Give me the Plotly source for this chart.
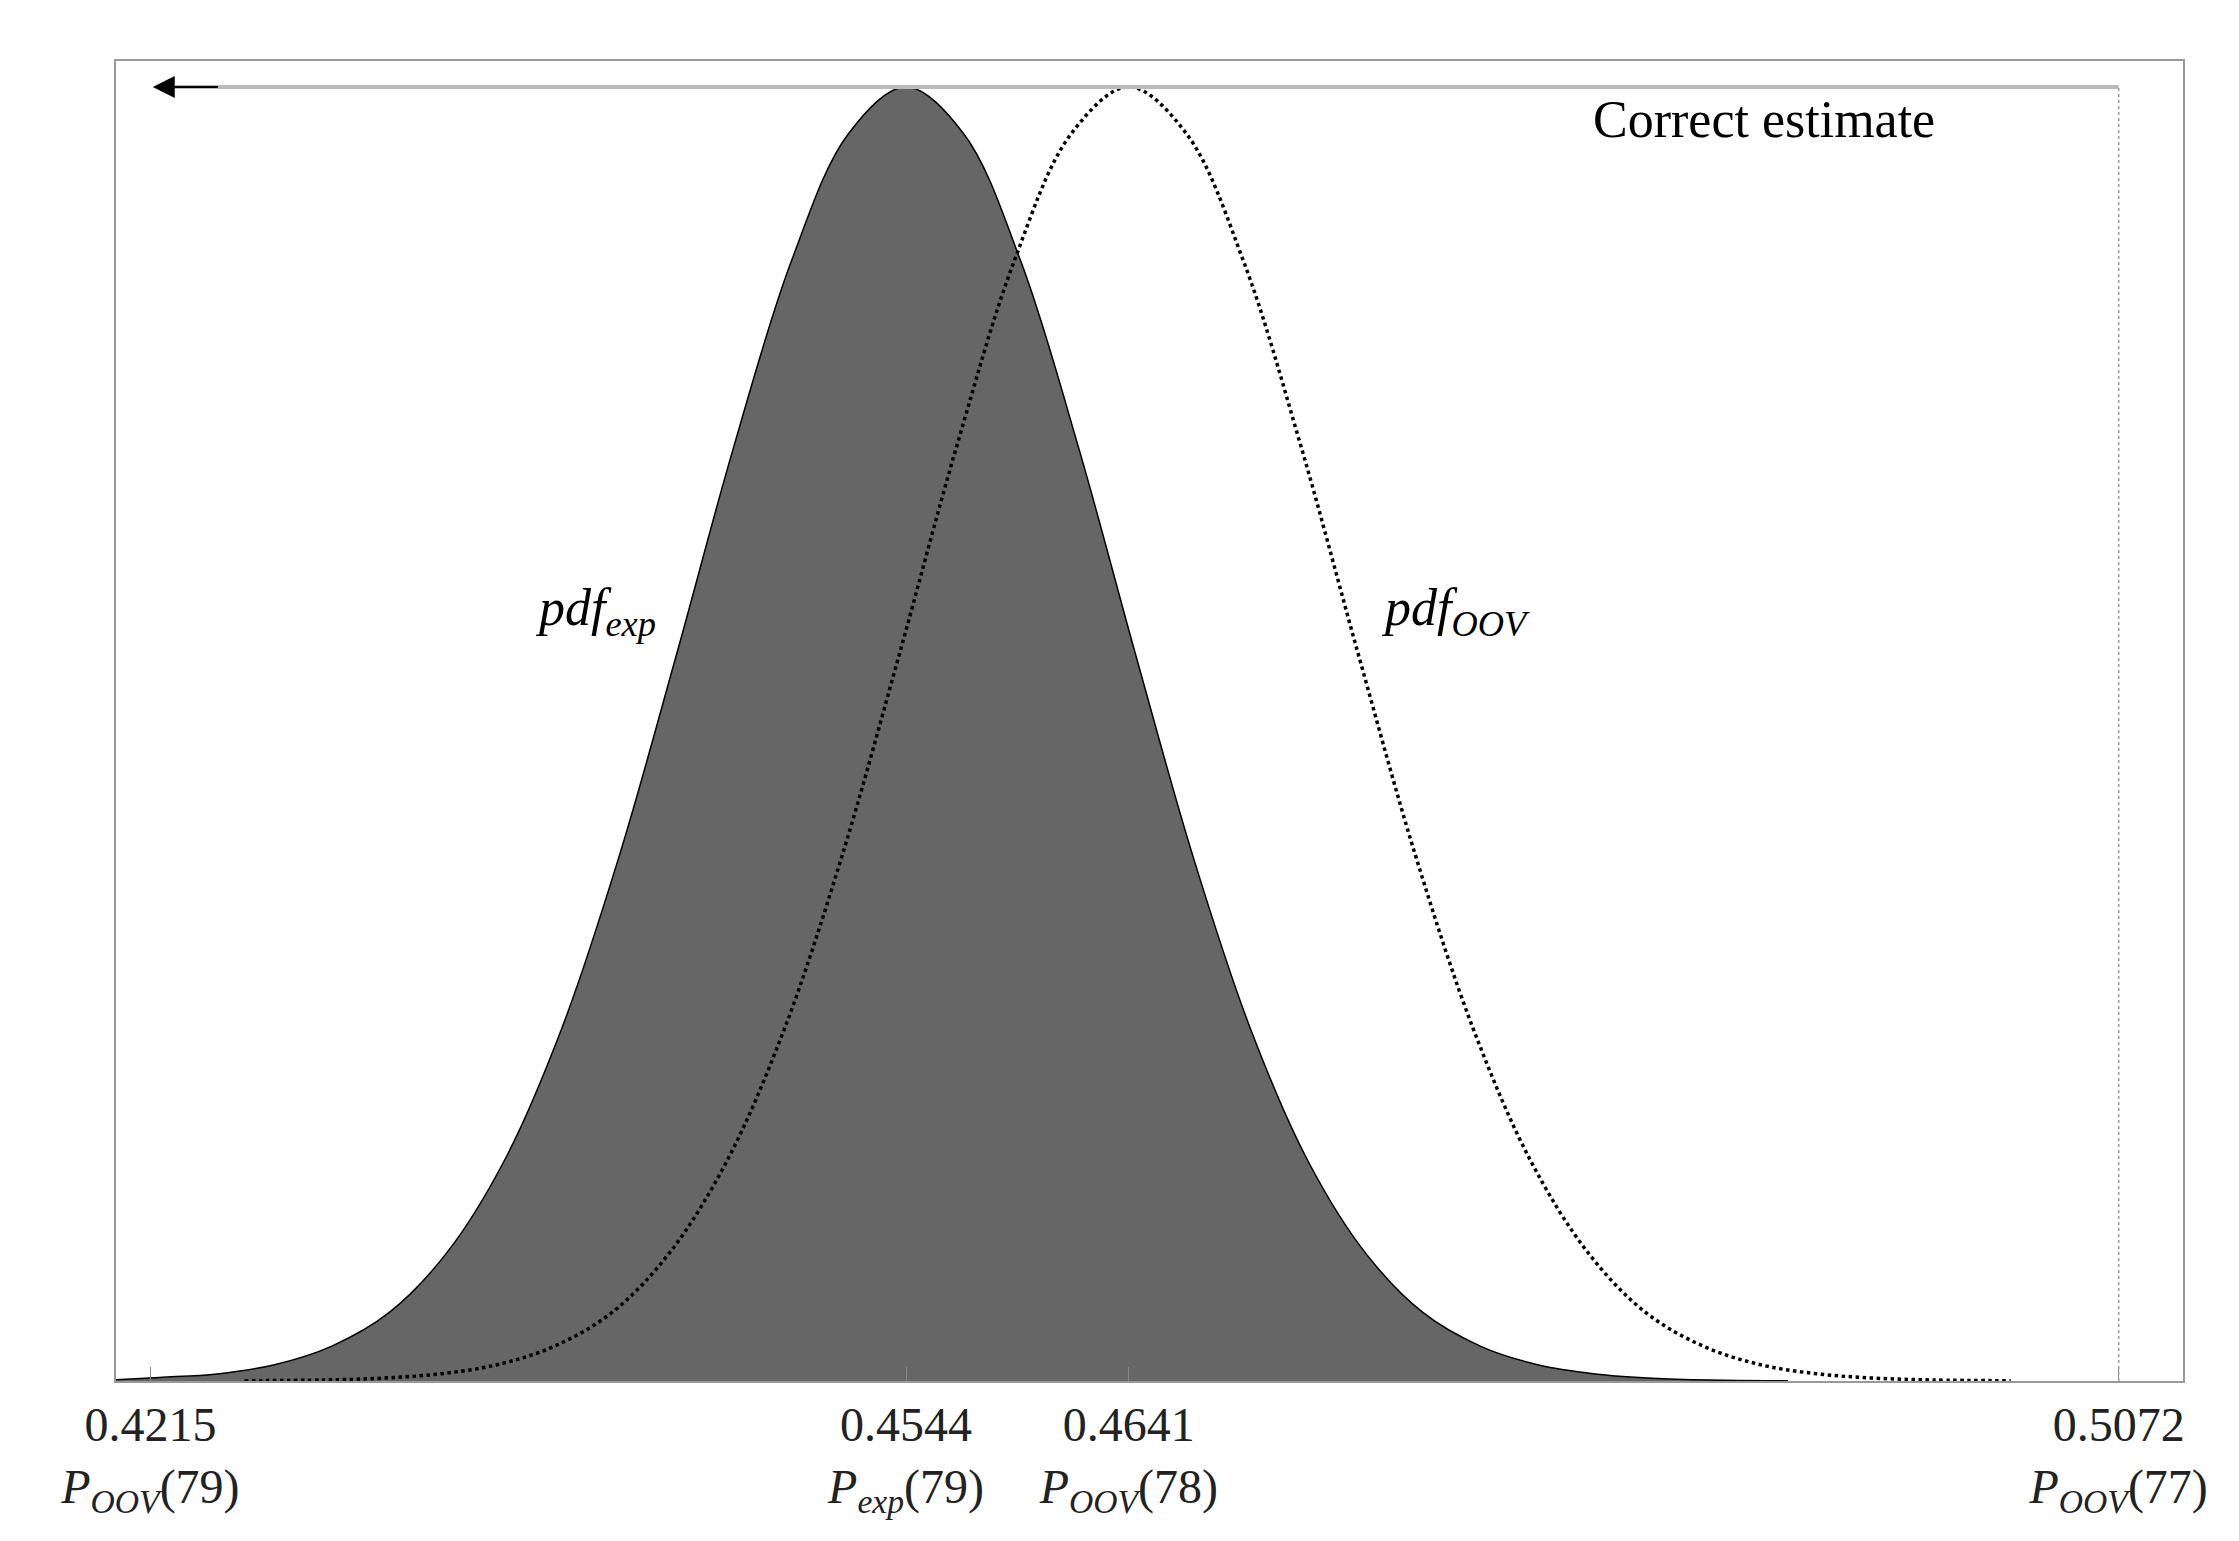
import plotly.graph_objects as go

# values (heights normalised to peak = 1)
exp_x = [0.4200, 0.4219, 0.4244, 0.4269, 0.4294, 0.4319, 0.4344, 0.4369, 0.4394, 0.4419,
         0.4444, 0.4469, 0.4494, 0.4519, 0.4544, 0.4569, 0.4594, 0.4619, 0.4644, 0.4669,
         0.4694, 0.4719, 0.4744, 0.4769, 0.4794, 0.4819, 0.4844, 0.4869, 0.4894, 0.4928]
exp_y = [0.001, 0.0028, 0.0055, 0.0126, 0.027, 0.053, 0.099, 0.170, 0.272, 0.405,
         0.561, 0.722, 0.865, 0.964, 1.0, 0.964, 0.865, 0.722, 0.561, 0.405,
         0.272, 0.170, 0.099, 0.053, 0.027, 0.0126, 0.0055, 0.0022, 0.0008, 0.0002]
oov_x = [0.4256, 0.4291, 0.4316, 0.4341, 0.4366, 0.4391, 0.4416, 0.4441, 0.4466, 0.4491,
         0.4516, 0.4541, 0.4566, 0.4591, 0.4616, 0.4641, 0.4666, 0.4691, 0.4716, 0.4741,
         0.4766, 0.4791, 0.4816, 0.4841, 0.4866, 0.4891, 0.4916, 0.4941, 0.4966, 0.4991,
         0.5025]
oov_y = [0.0002, 0.0008, 0.0022, 0.0055, 0.0126, 0.027, 0.053, 0.099, 0.170, 0.272,
         0.405, 0.561, 0.722, 0.865, 0.964, 1.0, 0.964, 0.865, 0.722, 0.561,
         0.405, 0.272, 0.170, 0.099, 0.053, 0.027, 0.0126, 0.0055, 0.0022, 0.0008,
         0.0002]
tick_vals = [0.4215, 0.4544, 0.4641, 0.5072]
tick_text = ["0.4215<br><i>P</i><sub><i>OOV</i></sub>(79)",
             "0.4544<br><i>P</i><sub><i>exp</i></sub>(79)",
             "0.4641<br><i>P</i><sub><i>OOV</i></sub>(78)",
             "0.5072<br><i>P</i><sub><i>OOV</i></sub>(77)"]

font = "Liberation Serif"

fig = go.Figure()
fig.add_trace(go.Scatter(x=exp_x, y=exp_y, mode="lines", line=dict(color="black", width=1.5, shape="spline"),
                         fill="tozeroy", fillcolor="#666666"))
fig.add_trace(go.Scatter(x=oov_x, y=oov_y, mode="lines",
                         line=dict(color="black", width=3.5, dash="dot", shape="spline")))

# top arrow and vertical dotted guide
fig.add_shape(type="line", x0=0.4222, x1=0.5072, y0=1.0, y1=1.0, line=dict(color="#bbbbbb", width=4))
fig.add_shape(type="line", x0=0.5072, x1=0.5072, y0=0, y1=1.0, line=dict(color="#999999", width=1.5, dash="dot"))
fig.add_annotation(x=0.4216, y=1.0, ax=0.4245, ay=1.0, axref="x", ayref="y", text="",
                   showarrow=True, arrowhead=2, arrowsize=2.2, arrowwidth=2, arrowcolor="black")

fig.add_annotation(x=0.4993, y=0.975, text="Correct estimate", showarrow=False, xanchor="right",
                   font=dict(family=font, size=52, color="black"))
fig.add_annotation(x=0.4436, y=0.595, text="<i>pdf</i><sub><i>exp</i></sub>", showarrow=False, xanchor="right",
                   font=dict(family=font, size=52, color="black"))
fig.add_annotation(x=0.4750, y=0.595, text="<i>pdf</i><sub><i>OOV</i></sub>", showarrow=False, xanchor="left",
                   font=dict(family=font, size=52, color="black"))

fig.update_layout(
    width=2239, height=1541, showlegend=False,
    plot_bgcolor="white", paper_bgcolor="white",
    margin=dict(l=108, r=64, t=53, b=168),
    xaxis=dict(range=[0.4200, 0.5100], tickvals=tick_vals, ticktext=tick_text, ticks="inside",
               ticklen=14, tickcolor="#888888", showgrid=False, zeroline=False,
               showline=True, linecolor="#999999", linewidth=2, mirror=True,
               tickfont=dict(family=font, size=48, color="#222222")),
    yaxis=dict(range=[0, 1.02], showticklabels=False, ticks="", showgrid=False, zeroline=False,
               showline=True, linecolor="#999999", linewidth=2, mirror=True),
)

fig.write_html("out.html")
